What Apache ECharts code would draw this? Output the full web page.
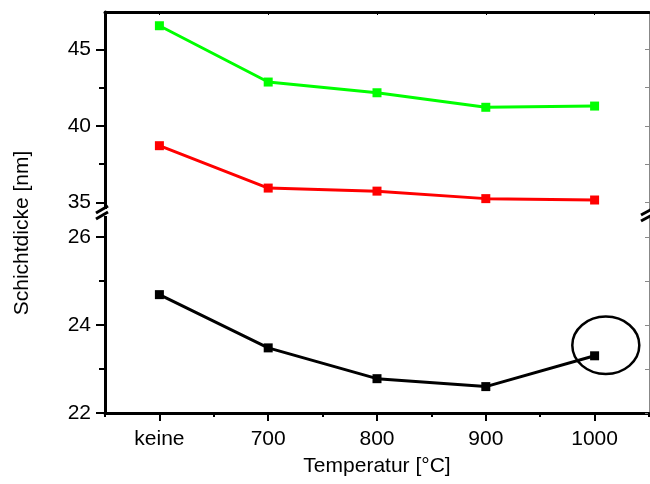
<!DOCTYPE html>
<html>
<head>
<meta charset="utf-8">
<script src="https://cdn.jsdelivr.net/npm/echarts@6/dist/echarts.min.js"></script>
<style>html,body{margin:0;padding:0;background:#fff}#c{width:650px;height:484px}</style>
</head>
<body>
<div id="c"></div>
<script>
const categories = ['keine', '700', '800', '900', '1000'];
const greenValues = [46.54, 42.86, 42.16, 41.21, 41.29];
const redValues = [38.70, 35.93, 35.73, 35.24, 35.15];
const blackValues = [24.69, 23.48, 22.78, 22.60, 23.30];
const upperTicks = [35, 40, 45];
const upperMinor = [37.5, 42.5];
const lowerTicks = [22, 24, 26];
const lowerMinor = [23, 25];

const FONT = 'Liberation Sans, Arial, sans-serif';
const chart = echarts.init(document.getElementById('c'), null, {renderer: 'canvas'});

const L = 105, R = 1, TOP = 12, SPLIT = 213, BOT = 413;
const upMin = 35 - (SPLIT - 202.3) / 15.3, upMax = 35 + (202.3 - TOP) / 15.3;
const loMin = 22, loMax = 22 + (BOT - SPLIT) / 44;

function yMain(grid, min, max, ticks) {
  return {type: 'value', gridIndex: grid, min: min, max: max, position: 'left',
    axisLine: {show: true, lineStyle: {color: '#000', width: 3}},
    axisTick: {show: true, inside: false, length: 9, lineStyle: {color: '#000', width: 2}, customValues: ticks},
    axisLabel: {show: true, margin: 14, color: '#000', fontSize: 21, fontFamily: FONT, customValues: ticks},
    splitLine: {show: false}};
}
function yMinor(grid, min, max, ticks) {
  return {type: 'value', gridIndex: grid, min: min, max: max, position: 'left',
    axisLine: {show: false},
    axisTick: {show: true, inside: false, length: 6, lineStyle: {color: '#000', width: 2}, customValues: ticks},
    axisLabel: {show: false}, splitLine: {show: false}};
}
function yRight(grid, min, max, ticks) {
  return {type: 'value', gridIndex: grid, min: min, max: max, position: 'right',
    axisLine: {show: true, lineStyle: {color: '#888', width: 1}},
    axisTick: {show: true, inside: true, length: 4, lineStyle: {color: '#888', width: 1}, customValues: ticks},
    axisLabel: {show: false}, splitLine: {show: false}};
}

const option = {
  backgroundColor: '#fff',
  animation: false,
  grid: [
    {left: L, right: R, top: TOP, height: SPLIT - TOP},
    {left: L, right: R, top: SPLIT, height: BOT - SPLIT}
  ],
  xAxis: [
    {type: 'category', gridIndex: 0, data: categories, position: 'top', boundaryGap: true,
      axisLine: {show: true, lineStyle: {color: '#000', width: 3}},
      axisTick: {show: true, inside: true, length: 3, alignWithLabel: true, lineStyle: {color: '#000', width: 1}},
      axisLabel: {show: false}, splitLine: {show: false}},
    {type: 'category', gridIndex: 1, data: categories, position: 'bottom', boundaryGap: true,
      axisLine: {show: true, lineStyle: {color: '#000', width: 3}},
      axisTick: {show: true, inside: false, length: 8, alignWithLabel: true, lineStyle: {color: '#000', width: 2}},
      axisLabel: {show: true, margin: 16, color: '#000', fontSize: 21, fontFamily: FONT},
      name: 'Temperatur [°C]', nameLocation: 'middle', nameGap: 43,
      nameTextStyle: {color: '#000', fontSize: 21, fontFamily: FONT},
      splitLine: {show: false}},
    {type: 'category', gridIndex: 1, data: categories, position: 'bottom', boundaryGap: true,
      axisLine: {show: false},
      axisTick: {show: true, inside: false, length: 4, alignWithLabel: false, lineStyle: {color: '#000', width: 2}},
      axisLabel: {show: false}, splitLine: {show: false}}
  ],
  yAxis: [
    yMain(0, upMin, upMax, upperTicks),
    yMain(1, loMin, loMax, lowerTicks),
    yMinor(0, upMin, upMax, upperMinor),
    yMinor(1, loMin, loMax, lowerMinor),
    yRight(0, upMin, upMax, upperTicks.concat(upperMinor)),
    yRight(1, loMin, loMax, lowerTicks.concat(lowerMinor))
  ],
  series: [
    {type: 'line', xAxisIndex: 0, yAxisIndex: 0, data: greenValues, symbol: 'rect', symbolSize: 9,
      lineStyle: {color: '#00ff00', width: 3}, itemStyle: {color: '#00ff00'}},
    {type: 'line', xAxisIndex: 0, yAxisIndex: 0, data: redValues, symbol: 'rect', symbolSize: 9,
      lineStyle: {color: '#ff0000', width: 3}, itemStyle: {color: '#ff0000'}},
    {type: 'line', xAxisIndex: 1, yAxisIndex: 1, data: blackValues, symbol: 'rect', symbolSize: 9,
      lineStyle: {color: '#000', width: 3}, itemStyle: {color: '#000'}}
  ],
  graphic: [
    {type: 'text', x: 22, y: 233, rotation: Math.PI / 2, z: 100,
      style: {text: 'Schichtdicke [nm]', fontSize: 21, fontFamily: FONT, fill: '#000', align: 'center', verticalAlign: 'middle'}},
    {type: 'rect', z: 100, shape: {x: 100, y: 209, width: 12, height: 7}, style: {fill: '#fff'}},
    {type: 'line', z: 101, shape: {x1: 96, y1: 213, x2: 108, y2: 206}, style: {stroke: '#000', lineWidth: 3}},
    {type: 'line', z: 101, shape: {x1: 96, y1: 219, x2: 108, y2: 212}, style: {stroke: '#000', lineWidth: 3}},
    {type: 'rect', z: 100, shape: {x: 640, y: 211, width: 10, height: 7}, style: {fill: '#fff'}},
    {type: 'line', z: 101, shape: {x1: 641, y1: 215, x2: 652, y2: 209}, style: {stroke: '#000', lineWidth: 3}},
    {type: 'line', z: 101, shape: {x1: 641, y1: 221, x2: 652, y2: 215}, style: {stroke: '#000', lineWidth: 3}},
    {type: 'ellipse', z: 100, shape: {cx: 605.8, cy: 345.3, rx: 33.5, ry: 28.7}, style: {fill: 'none', stroke: '#000', lineWidth: 2.5}}
  ]
};
chart.setOption(option);
</script>
</body>
</html>
